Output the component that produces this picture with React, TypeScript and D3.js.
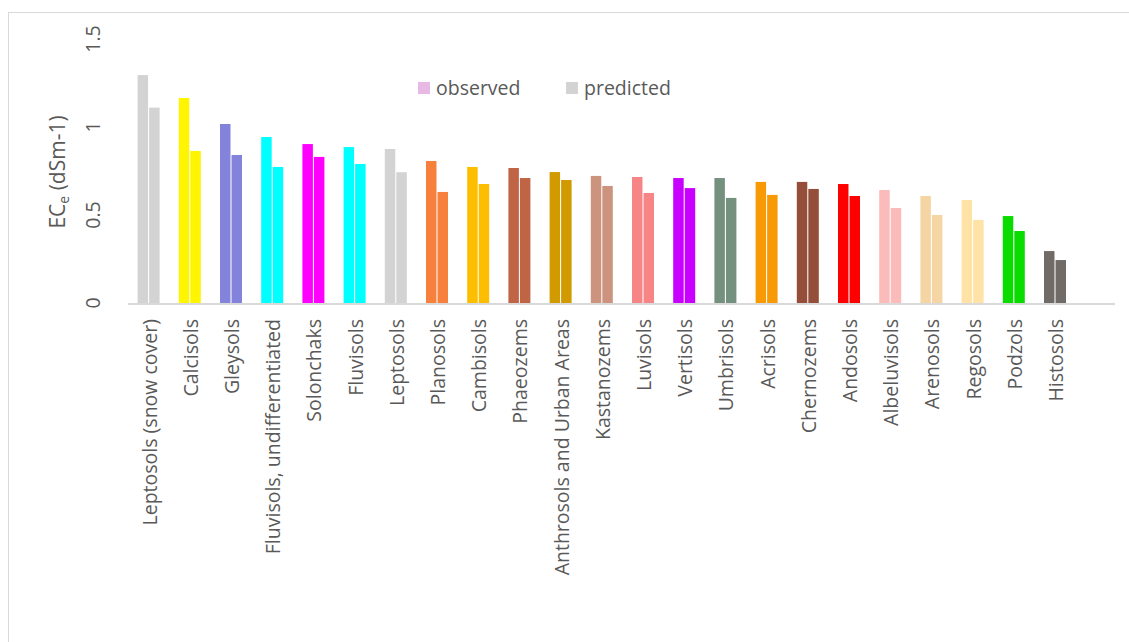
import React from "react";
import * as d3 from "d3";

const categories = [
  "Leptosols (snow cover)", "Calcisols", "Gleysols", "Fluvisols, undifferentiated",
  "Solonchaks", "Fluvisols", "Leptosols", "Planosols", "Cambisols", "Phaeozems",
  "Anthrosols and Urban Areas", "Kastanozems", "Luvisols", "Vertisols", "Umbrisols",
  "Acrisols", "Chernozems", "Andosols", "Albeluvisols", "Arenosols", "Regosols",
  "Podzols", "Histosols",
];
const observed = [1.295, 1.165, 1.017, 0.943, 0.903, 0.886, 0.875, 0.807, 0.773, 0.767,
  0.744, 0.722, 0.716, 0.71, 0.71, 0.688, 0.688, 0.676, 0.642, 0.608, 0.585, 0.494, 0.295];
const predicted = [1.11, 0.864, 0.841, 0.773, 0.83, 0.79, 0.743, 0.631, 0.676, 0.71,
  0.699, 0.665, 0.625, 0.653, 0.597, 0.614, 0.648, 0.608, 0.54, 0.5, 0.472, 0.409, 0.244];
const colors = ["#D3D3D3", "#FFF500", "#8383DB", "#00FFFF", "#FF00FF", "#00FFFF", "#D3D3D3",
  "#F7803C", "#FDBE00", "#C06446", "#D09A00", "#CC937E", "#F88585", "#C800FF", "#74907E",
  "#F89A05", "#944E3A", "#FF0000", "#FBBBBB", "#F5D5A3", "#FFE2A5", "#0ADC00", "#706B67"];
const yTicks = [0, 0.5, 1, 1.5];
const seriesNames = ["observed", "predicted"];
const legendColors = ["#E8B9E4", "#D3D3D3"];

export default function App() {
  const W = 1129, H = 642;
  const x = d3.scaleBand<string>().domain(categories).range([128, 128 + 23 * 41.2]).padding(0);
  const inner = d3.scaleBand<string>().domain(seriesNames).range([9.6, 31.6]).paddingInner(0.09);
  const y = d3.scaleLinear().domain([0, 1.5]).range([303, 39]);
  const font = "'Open Sans', sans-serif";
  const textColor = "#595959";
  return (
    <svg width={W} height={H} style={{ position: "absolute", left: 0, top: 0 }} fontFamily={font}>
      <rect x={0} y={0} width={W} height={H} fill="#fff" />
      <rect x={8.5} y={12.5} width={1140} height={700} fill="none" stroke="#D9D9D9" strokeWidth={1} />
      {categories.map((c, i) => {
        const x0 = x(c)!;
        return (
          <g key={c}>
            <rect x={x0 + inner("observed")!} y={y(observed[i])} width={inner.bandwidth()}
              height={y(0) - y(observed[i])} fill={colors[i]} />
            <rect x={x0 + inner("predicted")!} y={y(predicted[i])} width={inner.bandwidth()}
              height={y(0) - y(predicted[i])} fill={colors[i]} />
            <text transform={`translate(${x0 + x.bandwidth() / 2 + 8},${319}) rotate(-90)`}
              textAnchor="end" fontSize={19.5} fill={textColor}>{c}</text>
          </g>
        );
      })}
      <line x1={128} x2={1115} y1={y(0) + 1} y2={y(0) + 1} stroke="#D9D9D9" strokeWidth={2} />
      {yTicks.map((t) => (
        <text key={t} transform={`translate(${100},${y(t)}) rotate(-90)`} textAnchor="middle"
          fontSize={19.5} fill={textColor}>{t}</text>
      ))}
      <text transform={`translate(${65},${172}) rotate(-90)`} textAnchor="middle" fontSize={21} fill={textColor}>
        EC<tspan fontSize={14} dy={4}>e</tspan><tspan dy={-4}> (dSm-1)</tspan>
      </text>
      {seriesNames.map((s, i) => {
        const lx = [418, 566][i];
        return (
          <g key={s}>
            <rect x={lx} y={82} width={12} height={12} fill={legendColors[i]} />
            <text x={lx + 18} y={95} fontSize={19.5} fill={textColor}>{s}</text>
          </g>
        );
      })}
    </svg>
  );
}
